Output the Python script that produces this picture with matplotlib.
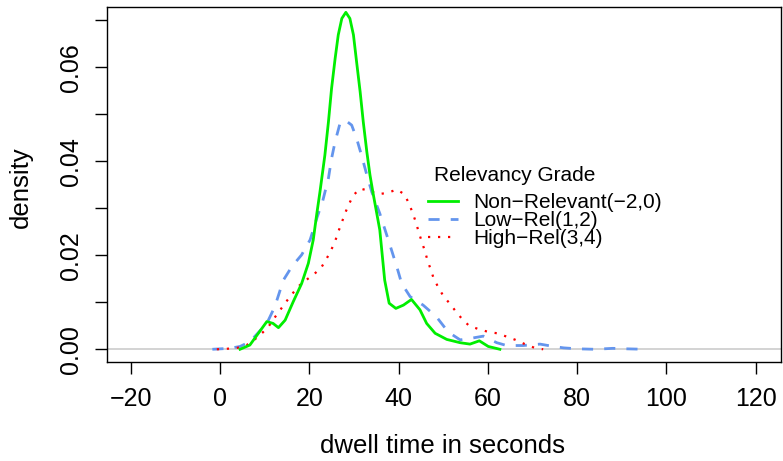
import matplotlib
matplotlib.use("Agg")
import matplotlib.pyplot as plt

plt.rcParams["font.family"] = ["Liberation Sans", "DejaVu Sans"]

# density curves (dwell time in seconds, density)
non_rel_t = [4.5, 6.7, 8.6, 10.5, 11.9, 13.1, 14.6, 16.4, 18.3, 19.8, 20.9, 21.7,
             22.4, 23.5, 24.3, 25.0, 25.8, 26.5, 27.3, 28.2, 29.1, 29.9, 30.6,
             31.4, 32.1, 32.9, 33.6, 34.3, 35.8, 36.9, 37.9, 39.4, 41.1, 42.9,
             44.8, 46.3, 48.2, 50.8, 53.8, 56.0, 58.1, 60.1, 62.7]
non_rel_d = [0.0, 0.0009, 0.0034, 0.0059, 0.0055, 0.0046, 0.0062, 0.0101, 0.0140,
             0.0183, 0.0233, 0.0289, 0.0335, 0.0413, 0.0484, 0.0555, 0.0619,
             0.0669, 0.0704, 0.0717, 0.0704, 0.0669, 0.0612, 0.0548, 0.0484,
             0.0420, 0.0371, 0.0332, 0.0254, 0.0147, 0.0098, 0.0087, 0.0094,
             0.0106, 0.0084, 0.0055, 0.0034, 0.0021, 0.0014, 0.0011, 0.0018,
             0.0006, 0.0]

low_rel_t = [-1.7, 2.2, 4.5, 6.7, 10.5, 12.3, 14.2, 16.1, 18.3, 20.2, 21.8, 23.0,
             24.3, 25.0, 25.8, 26.9, 28.0, 29.5, 30.6, 31.7, 32.9, 34.0, 35.8,
             37.7, 39.6, 40.7, 42.6, 45.5, 48.5, 51.1, 53.8, 56.0, 59.0, 62.0,
             64.2, 67.9, 71.7, 74.7, 77.0, 80.0, 84.0, 88.0, 91.0, 95.0]
low_rel_d = [0.0, 0.0002, 0.0006, 0.0016, 0.0055, 0.0091, 0.0147, 0.0176, 0.0201,
             0.0233, 0.0282, 0.0315, 0.0364, 0.0406, 0.0442, 0.0481, 0.0488,
             0.0477, 0.0449, 0.0413, 0.0371, 0.0335, 0.0289, 0.0233, 0.0176,
             0.0140, 0.0112, 0.0094, 0.0069, 0.0037, 0.0020, 0.0023, 0.0028,
             0.0014, 0.0008, 0.0008, 0.0011, 0.0006, 0.0003, 0.0001, 0.0,
             0.0002, 0.0001, 0.0]

high_rel_t = [-0.7, 1.5, 3.9, 6.0, 7.8, 9.5, 11.0, 12.3, 13.6, 14.9, 16.2, 17.7,
              19.4, 21.1, 22.7, 23.9, 24.9, 25.8, 26.5, 27.3, 28.0, 28.9, 29.9,
              31.4, 33.5, 35.5, 37.6, 39.6, 41.3, 42.4, 43.2, 43.9, 44.5, 45.2,
              45.9, 46.5, 47.2, 47.9, 48.9, 50.0, 51.4, 52.8, 54.1, 55.8, 57.9,
              60.1, 62.1, 64.2, 66.2, 68.3, 70.5, 72.4]
high_rel_d = [0.0, 0.0001, 0.0003, 0.0009, 0.0021, 0.0035, 0.0050, 0.0068, 0.0085,
              0.0102, 0.0118, 0.0135, 0.0148, 0.0160, 0.0174, 0.0193, 0.0211,
              0.0230, 0.0250, 0.0270, 0.0289, 0.0309, 0.0328, 0.0342, 0.0337,
              0.0330, 0.0333, 0.0340, 0.0330, 0.0309, 0.0289, 0.0270, 0.0250,
              0.0229, 0.0209, 0.0189, 0.0170, 0.0150, 0.0132, 0.0114, 0.0098,
              0.0081, 0.0066, 0.0050, 0.0043, 0.0037, 0.0034, 0.0027, 0.0020,
              0.0011, 0.0003, 0.0]

series_labels = ["Non\u2212Relevant(\u22122,0)", "Low\u2212Rel(1,2)", "High\u2212Rel(3,4)"]
legend_title = "Relevancy Grade"

x_ticks = [-20, 0, 20, 40, 60, 80, 100, 120]
x_tick_labels = ["\u221220", "0", "20", "40", "60", "80", "100", "120"]
y_ticks = [0.0, 0.01, 0.02, 0.03, 0.04, 0.05, 0.06, 0.07]
y_tick_labels = ["0.00", "", "0.02", "", "0.04", "", "0.06", ""]


def main():
    W, H = 783, 461
    fig = plt.figure(figsize=(W / 100, H / 100), dpi=100)
    ax = fig.add_axes([107 / W, 1 - 362.3 / H, (780.7 - 107) / W, (362.3 - 7.3) / H])

    ax.axhline(0, color="#cccccc", lw=1.2, zorder=1)
    l1, = ax.plot(non_rel_t, non_rel_d, color="#00ee00", lw=2.0, zorder=3)
    l2, = ax.plot(low_rel_t, low_rel_d, color="#6495ED", lw=2.0,
                  linestyle=(0, (4, 4)), zorder=2)
    l3, = ax.plot(high_rel_t, high_rel_d, color="#ff0000", lw=1.6,
                  linestyle=(0, (1, 3.5)), zorder=2)

    ax.set_xlim(-25.3, 125.6)
    ax.set_ylim(-0.00277, 0.07277)
    ax.set_xticks(x_ticks)
    ax.set_xticklabels(x_tick_labels)
    ax.set_yticks(y_ticks)
    ax.set_yticklabels(y_tick_labels)
    ax.tick_params(direction="out", length=8.5, width=1, labelsize=18, pad=9)
    plt.setp(ax.get_yticklabels(), rotation=90, va="center")
    for sp in ax.spines.values():
        sp.set_linewidth(1)

    fig.text(443 / W, 1 - 453 / H, "dwell time in seconds", fontsize=18.5,
             ha="center", va="baseline")
    fig.text(28 / W, 1 - 187 / H, "density", fontsize=18.5, rotation=90,
             rotation_mode="anchor", ha="center", va="baseline")

    # legend: title placed on its own, R puts more room under it
    fig.text(434 / W, 1 - 181 / H, legend_title, fontsize=15,
             ha="left", va="baseline")
    ax.legend([l1, l2, l3], series_labels,
              loc="upper left", bbox_to_anchor=(428 / W, 1 - 193 / H),
              bbox_transform=fig.transFigure, frameon=False,
              fontsize=15, borderpad=0, borderaxespad=0,
              handlelength=1.45, handletextpad=0.7, labelspacing=-0.05)

    fig.savefig("out.png", dpi=100)
    plt.close(fig)


if __name__ == "__main__":
    main()
